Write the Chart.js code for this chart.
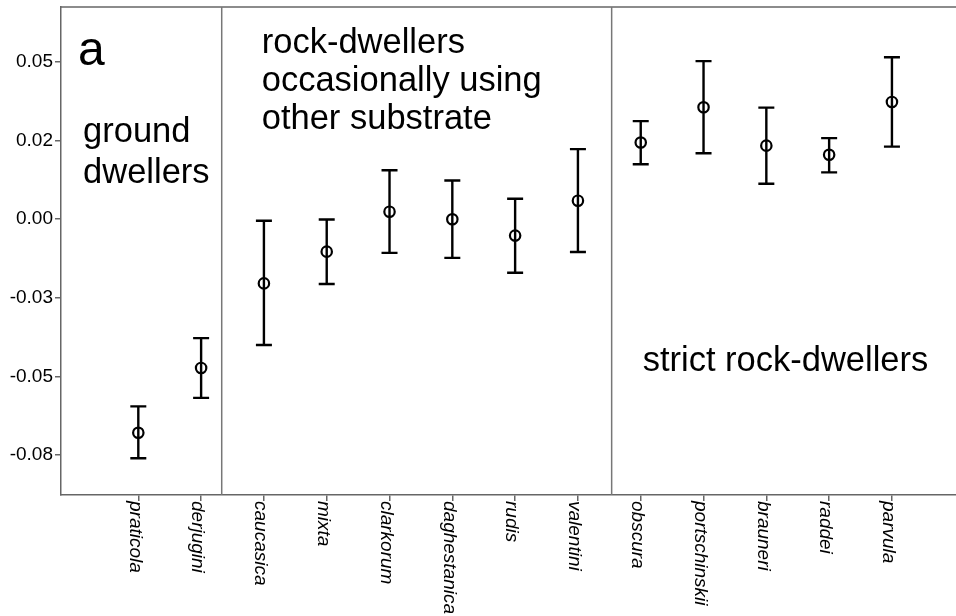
<!DOCTYPE html>
<html>
<head>
<meta charset="utf-8">
<script src="https://cdn.jsdelivr.net/npm/chart.js@4.4.1/dist/chart.umd.min.js"></script>
<style>
  html, body { margin: 0; padding: 0; background: #fff; overflow: hidden; }
  canvas { display: block; }
</style>
</head>
<body>
<canvas id="c" width="956" height="616"></canvas>
<script>
// ---- data ----
const categories = ["praticola", "derjugini", "caucasica", "mixta", "clarkorum", "daghestanica",
  "rudis", "valentini", "obscura", "portschinskii", "brauneri", "raddei", "parvula"];
const means = [-0.0679, -0.0473, -0.0204, -0.0103, 0.0024, 0.0000, -0.0052, 0.0059,
  0.0244, 0.0356, 0.0234, 0.0205, 0.0373];
const lower = [-0.0760, -0.0568, -0.0400, -0.0206, -0.0107, -0.0123, -0.0170, -0.0104,
  0.0175, 0.0210, 0.0113, 0.0149, 0.0231];
const upper = [-0.0595, -0.0378, -0.0005, -0.0001, 0.0156, 0.0123, 0.0065, 0.0223,
  0.0312, 0.0503, 0.0355, 0.0258, 0.0515];
const yTickValues = [-0.075, -0.05, -0.025, 0, 0.025, 0.05];
const yTickLabels = ["-0.08", "-0.05", "-0.03", "0.00", "0.02", "0.05"];
const groupBreaks = [1.328, 7.537];
const annotations = [
  { lines: ["a"], x: -0.96, y: 0.0491, size: 48 },
  { lines: ["ground", "dwellers"], x: -0.88, y: 0.0246, size: 34.5, lh: 41 },
  { lines: ["rock-dwellers", "occasionally using", "other substrate"], x: 1.965, y: 0.0528, size: 34.5, lh: 38 },
  { lines: ["strict rock-dwellers"], x: 8.031, y: -0.0482, size: 34.5 }
];

const FONT = '"Liberation Sans", Arial, Helvetica, sans-serif';
const AXIS_COLOR = '#666666';

const overlay = {
  id: 'overlay',
  beforeDatasetsDraw(chart) {
    const { ctx, chartArea: a, scales: { x, y } } = chart;
    ctx.save();
    // top border
    ctx.strokeStyle = AXIS_COLOR;
    ctx.lineWidth = 1.5;
    ctx.beginPath();
    ctx.moveTo(a.left, a.top);
    ctx.lineTo(a.right, a.top);
    ctx.stroke();
    // group separators
    ctx.strokeStyle = '#777777';
    ctx.lineWidth = 1.5;
    groupBreaks.forEach(b => {
      const px = x.getPixelForValue(b);
      ctx.beginPath();
      ctx.moveTo(px, a.top);
      ctx.lineTo(px, a.bottom);
      ctx.stroke();
    });
    // error bars
    ctx.strokeStyle = '#000';
    ctx.lineWidth = 2.4;
    categories.forEach((c, i) => {
      const px = x.getPixelForValue(i);
      const pl = y.getPixelForValue(lower[i]);
      const pu = y.getPixelForValue(upper[i]);
      ctx.beginPath();
      ctx.moveTo(px, pu); ctx.lineTo(px, pl);
      ctx.moveTo(px - 8, pu); ctx.lineTo(px + 8, pu);
      ctx.moveTo(px - 8, pl); ctx.lineTo(px + 8, pl);
      ctx.stroke();
    });
    // annotations
    ctx.fillStyle = '#000';
    ctx.textAlign = 'left';
    ctx.textBaseline = 'alphabetic';
    annotations.forEach(an => {
      ctx.font = an.size + 'px ' + FONT;
      const px = x.getPixelForValue(an.x);
      const py = y.getPixelForValue(an.y);
      an.lines.forEach((ln, k) => ctx.fillText(ln, px, py + k * (an.lh || 0)));
    });
    ctx.restore();
  },
  afterDraw(chart) {
    const { ctx, chartArea: a, scales: { x } } = chart;
    ctx.save();
    ctx.fillStyle = '#000';
    ctx.font = 'italic 19px ' + FONT;
    ctx.textAlign = 'left';
    ctx.textBaseline = 'alphabetic';
    categories.forEach((c, i) => {
      const px = x.getPixelForValue(i);
      ctx.save();
      ctx.translate(px - 8.8, a.bottom + 6);
      ctx.rotate(Math.PI / 2);
      ctx.fillText(c, 0, 0);
      ctx.restore();
    });
    ctx.restore();
  }
};

function zeroPad(s) { s.paddingTop = 0; s.paddingBottom = 0; s.paddingLeft = 0; s.paddingRight = 0; }

new Chart(document.getElementById('c'), {
  type: 'scatter',
  data: {
    datasets: [{
      data: means.map((m, i) => ({ x: i, y: m })),
      pointStyle: 'circle',
      pointRadius: 5.2,
      pointBorderWidth: 2.2,
      pointBackgroundColor: 'rgba(0,0,0,0)',
      pointBorderColor: '#000',
      showLine: false
    }]
  },
  plugins: [overlay],
  options: {
    responsive: false,
    maintainAspectRatio: false,
    animation: false,
    events: [],
    devicePixelRatio: 1,
    layout: { autoPadding: false, padding: { top: 7, left: 0, right: 0, bottom: 0 } },
    plugins: { legend: { display: false }, tooltip: { enabled: false } },
    scales: {
      x: {
        type: 'linear',
        min: -1.231,
        max: 13.02,
        afterBuildTicks(s) { s.ticks = categories.map((_, i) => ({ value: i })); },
        afterFit(s) { s.height = 121; zeroPad(s); },
        ticks: { display: false },
        grid: { drawOnChartArea: false, drawTicks: true, tickLength: 6, color: AXIS_COLOR, lineWidth: 1.5 },
        border: { color: AXIS_COLOR, width: 1.5 }
      },
      y: {
        type: 'linear',
        min: -0.0877,
        max: 0.0675,
        afterBuildTicks(s) { s.ticks = yTickValues.map(v => ({ value: v })); },
        afterFit(s) { s.width = 61; zeroPad(s); },
        ticks: {
          color: '#000',
          padding: 2,
          font: { family: FONT, size: 19 },
          callback: (v, i) => yTickLabels[i]
        },
        grid: { drawOnChartArea: false, drawTicks: true, tickLength: 6, color: AXIS_COLOR, lineWidth: 1.5 },
        border: { color: AXIS_COLOR, width: 1.5 }
      }
    }
  }
});
</script>
</body>
</html>
